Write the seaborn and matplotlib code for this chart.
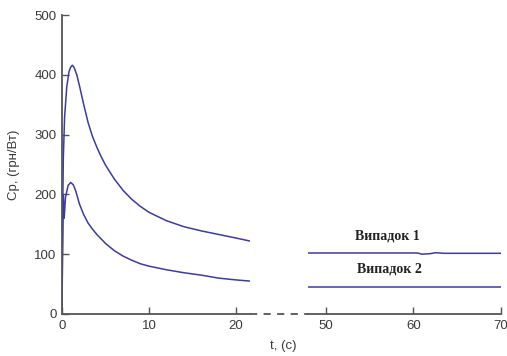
import pandas as pd
import matplotlib
matplotlib.use("Agg")
import matplotlib.pyplot as plt
import seaborn as sns
from matplotlib.lines import Line2D

# --- data ---
t_case1 = [0, 0.1, 0.15, 0.3, 0.55, 0.8, 1.0, 1.2, 1.4, 1.7, 2, 2.5, 3, 3.5, 4, 4.5, 5, 6, 7, 8, 9, 10,
           12, 14, 16, 18, 20, 21.6]
cp_case1 = [0, 200, 260, 330, 380, 405, 413, 416, 412, 400, 382, 350, 320, 297, 279, 263, 249, 226, 207,
            192, 180, 170, 156, 146, 139, 133, 127, 122]

t_case2 = [0, 0.05, 0.15, 0.25, 0.4, 0.7, 1.0, 1.3, 1.6, 2, 2.5, 3, 3.5, 4, 5, 6, 7, 8, 9, 10,
           12, 14, 16, 18, 20, 21.6]
cp_case2 = [0, 90, 200, 160, 195, 215, 220, 216, 205, 184, 166, 152, 142, 133, 118, 106, 97, 90, 84, 80,
            74, 69, 65, 60, 57, 55]

t_steady1 = [48, 60.5, 61, 62, 62.5, 63.5, 70]
cp_steady1 = [102, 102, 100, 101, 102.5, 101.5, 101.5]
t_steady2 = [48, 70]
cp_steady2 = [45, 45]

labels = ["Випадок 1", "Випадок 2"]
label_pos = [(57.0, 131), (57.3, 76)]

sns.set_style("white")
plt.rcParams['font.family'] = ['Liberation Sans', 'DejaVu Sans']

line_col = "#3a3aa8"
axis_col = "#555555"
text_col = "#3a3a3a"

fig = plt.figure(figsize=(5.07, 3.56), dpi=100)
ax1 = fig.add_axes([62 / 507, 1 - 314 / 356, (250 - 62) / 507, (314 - 15) / 356])
ax2 = fig.add_axes([308 / 507, 1 - 314 / 356, (501 - 308) / 507, (314 - 15) / 356])

df1 = pd.DataFrame({"t": t_case1, "cp": cp_case1})
df2 = pd.DataFrame({"t": t_case2, "cp": cp_case2})
sns.lineplot(data=df1, x="t", y="cp", ax=ax1, color=line_col, lw=1.1, sort=False, estimator=None)
sns.lineplot(data=df2, x="t", y="cp", ax=ax1, color=line_col, lw=1.1, sort=False, estimator=None)

df3 = pd.DataFrame({"t": t_steady1, "cp": cp_steady1})
df4 = pd.DataFrame({"t": t_steady2, "cp": cp_steady2})
sns.lineplot(data=df3, x="t", y="cp", ax=ax2, color=line_col, lw=1.1, sort=False, estimator=None)
sns.lineplot(data=df4, x="t", y="cp", ax=ax2, color=line_col, lw=1.1, sort=False, estimator=None)

for lab, (x, y) in zip(labels, label_pos):
    ax2.text(x, y, lab, ha="center", va="center", fontsize=10, fontweight="bold",
             family="Liberation Serif", color="#222222")

ax1.set_xlim(0, 21.6)
ax1.set_ylim(0, 500)
ax1.set_xticks([0, 10, 20])
ax1.set_yticks([0, 100, 200, 300, 400, 500])
ax2.set_xlim(48, 70)
ax2.set_ylim(0, 500)
ax2.set_xticks([50, 60, 70])
ax2.set_yticks([])

for ax in (ax1, ax2):
    ax.set_xlabel("")
    ax.set_ylabel("")
    ax.patch.set_alpha(0)
    for s in ("top", "right"):
        ax.spines[s].set_visible(False)
    ax.spines["bottom"].set_color(axis_col)
    ax.spines["bottom"].set_linewidth(1.3)
    ax.spines["left"].set_color(axis_col)
    ax.spines["left"].set_linewidth(1.3)
    ax.tick_params(direction="in", length=5, width=1, color=axis_col, bottom=True, left=True,
                   labelsize=9.5, labelcolor=text_col, pad=4)
ax2.spines["left"].set_visible(False)
ax2.tick_params(left=False)

# dashed break in the time axis
fig.add_artist(Line2D([250 / 507, 308 / 507], [1 - 314 / 356, 1 - 314 / 356],
                      color=axis_col, lw=1.3, ls=(0, (4, 3.5))))

fig.text(14 / 507, 1 - 165 / 356, "Ср, (грн/Вт)", rotation=90, ha="center", va="center",
         fontsize=9.5, color=text_col)
fig.text(283 / 507, 1 - 346 / 356, "t, (с)", ha="center", va="center",
         fontsize=9.5, color=text_col)

fig.savefig("out.png", dpi=100)
